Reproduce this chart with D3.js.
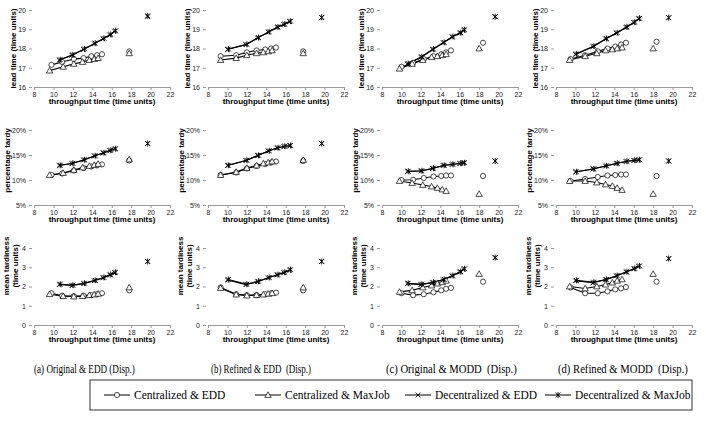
<!DOCTYPE html>
<html><head><meta charset="utf-8">
<script src="https://cdn.jsdelivr.net/npm/d3@7"></script>
<style>
body{margin:0;background:#fff;}
svg{display:block;}
.tick text{font-family:"Liberation Sans",Arial,sans-serif;font-size:7px;fill:#222;}
</style></head>
<body><svg id="c" width="706" height="429"></svg>
<script>
// ---------- data ----------
const panelCaptions = ["(a) Original & EDD (Disp.)","(b) Refined & EDD  (Disp.)","(c) Original & MODD  (Disp.)","(d) Refined & MODD  (Disp.)"];
const seriesNames = ["Centralized & EDD","Centralized & MaxJob","Decentralized & EDD","Decentralized & MaxJob"];
const metricTitles = [["lead time (time units)"],["percentage tardy"],["mean tardiness","(time units)"]];
const xTicks = [8,10,12,14,16,18,20,22];
const yTicksLead = [16,17,18,19,20];
const yTicksPct = [5,10,15,20];
const yTicksTard = [0,1,2,3,4];

// throughput time (x) per panel column a..d
const thrCE = [[9.8,10.9,12.1,13.1,13.9,14.5,15.0],[9.3,10.9,12.0,13.0,13.9,14.5,15.0],[10.0,11.2,12.3,13.3,14.1,14.6,15.1],[9.5,11.0,12.3,13.3,14.1,14.7,15.2]];
const thrCM = [[9.6,11.0,12.1,13.0,13.7,14.2,14.6],[9.3,10.9,12.0,13.0,13.7,14.2,14.6],[9.8,11.1,12.2,13.1,13.7,14.2,14.6],[9.4,11.0,12.2,13.1,13.8,14.3,14.8]];
const thrDE = [[10.6,11.9,13.1,14.2,15.1,15.8,16.3],[10.0,11.9,13.1,14.2,15.1,15.8,16.4],[10.6,12.0,13.2,14.3,15.2,16.0,16.4],[10.0,11.8,13.1,14.2,15.2,16.0,16.5]];
const thrDM = [[10.7,12.0,13.2,14.3,15.2,15.9,16.4],[10.1,12.0,13.2,14.3,15.2,15.9,16.5],[10.7,12.1,13.3,14.4,15.3,16.1,16.5],[10.1,11.9,13.2,14.3,15.3,16.1,16.6]];

// lead time
const leadCE = [[17.15,17.3,17.45,17.5,17.6,17.65,17.7],[17.6,17.65,17.8,17.9,17.95,18.0,18.05],[17.05,17.25,17.45,17.6,17.7,17.8,17.9],[17.45,17.65,17.85,18.0,18.1,18.2,18.3]];
const leadCM = [[16.85,17.05,17.2,17.3,17.4,17.45,17.5],[17.4,17.5,17.65,17.75,17.8,17.85,17.9],[16.95,17.2,17.4,17.55,17.6,17.65,17.7],[17.4,17.6,17.75,17.9,17.95,18.0,18.05]];
const leadDE = [[17.4,17.65,17.95,18.25,18.5,18.7,18.9],[17.95,18.2,18.55,18.85,19.1,19.25,19.4],[17.2,17.55,17.95,18.3,18.6,18.8,18.95],[17.7,18.1,18.5,18.8,19.1,19.35,19.55]];
const leadDM = [[17.42,17.68,17.98,18.28,18.53,18.73,18.92],[17.97,18.22,18.57,18.87,19.12,19.27,19.42],[17.22,17.57,17.97,18.32,18.62,18.82,18.97],[17.72,18.12,18.52,18.82,19.12,19.37,19.57]];

// percentage tardy (%)
const pctCE = [[11.0,11.3,11.9,12.4,12.7,12.9,13.1],[11.0,11.5,12.3,12.8,13.2,13.5,13.7],[10.0,10.05,10.4,10.7,10.8,10.9,10.9],[9.8,10.2,10.6,10.9,11.0,11.1,11.1]];
const pctCM = [[11.0,11.4,12.0,12.5,12.8,13.0,13.2],[11.0,11.6,12.4,12.9,13.3,13.5,13.7],[9.8,9.4,9.0,8.7,8.4,8.1,7.8],[9.8,9.8,9.5,9.1,8.8,8.4,8.0]];
const pctDE = [[12.9,13.3,14.0,14.8,15.4,15.9,16.2],[12.9,13.9,14.9,15.8,16.4,16.7,16.85],[11.7,11.8,12.3,12.9,13.1,13.3,13.4],[11.6,12.2,12.8,13.3,13.7,13.9,14.0]];
const pctDM = [[12.95,13.35,14.05,14.85,15.45,15.95,16.25],[12.95,13.95,14.95,15.85,16.45,16.75,16.9],[11.75,11.85,12.35,12.95,13.15,13.35,13.45],[11.65,12.25,12.85,13.35,13.75,13.95,14.05]];

// mean tardiness
const tardCE = [[1.65,1.52,1.5,1.52,1.55,1.6,1.65],[1.95,1.6,1.55,1.55,1.6,1.65,1.68],[1.65,1.55,1.6,1.7,1.8,1.88,1.93],[1.95,1.65,1.65,1.75,1.85,1.9,1.97]];
const tardCM = [[1.6,1.5,1.48,1.5,1.55,1.58,1.62],[1.92,1.58,1.53,1.55,1.58,1.62,1.65],[1.72,1.8,1.95,2.05,2.15,2.22,2.3],[2.0,1.9,2.0,2.1,2.2,2.3,2.37]];
const tardDE = [[2.1,2.05,2.15,2.3,2.45,2.6,2.72],[2.34,2.1,2.25,2.45,2.6,2.72,2.85],[2.15,2.1,2.2,2.35,2.55,2.75,2.9],[2.3,2.2,2.35,2.55,2.75,2.92,3.05]];
const tardDM = [[2.12,2.07,2.17,2.32,2.47,2.62,2.74],[2.36,2.12,2.27,2.47,2.62,2.74,2.87],[2.17,2.12,2.22,2.37,2.57,2.77,2.92],[2.32,2.22,2.37,2.57,2.77,2.94,3.07]];

// isolated dispatching-only points: [throughput, lead, pct, tard] per column
const dispCE = [[17.8,17.85,13.9,1.8],[17.8,17.85,13.8,1.8],[18.4,18.3,10.8,2.25],[18.35,18.35,10.8,2.25]];
const dispCM = [[17.8,17.75,14.1,1.95],[17.8,17.75,14.0,1.95],[18.0,18.0,7.2,2.65],[18.0,18.0,7.2,2.65]];
const dispDE = [[19.7,19.65,17.3,3.3],[19.7,19.6,17.3,3.3],[19.65,19.65,13.8,3.5],[19.6,19.6,13.8,3.45]];
const dispDM = [[19.7,19.7,17.3,3.3],[19.7,19.62,17.3,3.3],[19.65,19.65,13.8,3.5],[19.6,19.6,13.8,3.45]];

// ---------- drawing ----------
const svg = d3.select("#c");
const colX = [34,208,382,556];
const plotW = 136;
const captionX = [34,211,386,558];
const captionW = [101,100,131,130];
const rows = [
  {top:10, bot:87, dom:[16,20], ticks:yTicksLead, fmt:d=>d, ys:[leadCE,leadCM,leadDE,leadDM], k:1},
  {top:130, bot:205, dom:[5,20], ticks:yTicksPct, fmt:d=>d+"%", ys:[pctCE,pctCM,pctDE,pctDM], k:2},
  {top:248, bot:325, dom:[0,4], ticks:yTicksTard, fmt:d=>d, ys:[tardCE,tardCM,tardDE,tardDM], k:3}
];
const xs = [thrCE,thrCM,thrDE,thrDM];
const disp = [dispCE,dispCM,dispDE,dispDM];

function marker(g, type, x, y){
  const s = 2.6;
  if(type===0){
    g.append("circle").attr("cx",x).attr("cy",y).attr("r",s).attr("fill","#fff").attr("stroke","#000").attr("stroke-width",0.7);
  } else if(type===1){
    const h=3.2;
    g.append("path").attr("d",`M${x},${y-h}L${x+h},${y+h*0.75}L${x-h},${y+h*0.75}Z`).attr("fill","#fff").attr("stroke","#000").attr("stroke-width",0.7);
  } else if(type===2){
    const h=2.4;
    g.append("path").attr("d",`M${x-h},${y-h}L${x+h},${y+h}M${x-h},${y+h}L${x+h},${y-h}`).attr("stroke","#000").attr("stroke-width",0.9);
  } else {
    const h=2.4;
    g.append("path").attr("d",`M${x-h},${y-h}L${x+h},${y+h}M${x-h},${y+h}L${x+h},${y-h}M${x},${y-h-0.6}L${x},${y+h+0.6}`).attr("stroke","#000").attr("stroke-width",0.9);
  }
}

rows.forEach((row, ri)=>{
  colX.forEach((x0, ci)=>{
    const g = svg.append("g");
    const x = d3.scaleLinear().domain([8,22]).range([x0, x0+plotW]);
    const y = d3.scaleLinear().domain(row.dom).range([row.bot, row.top]);
    const xa = g.append("g").attr("transform",`translate(0,${row.bot})`)
      .call(d3.axisBottom(x).tickValues(xTicks).tickSize(3).tickPadding(2));
    xa.select(".domain").attr("stroke","#999");
    xa.selectAll(".tick line").attr("stroke","#999");
    const ya = g.append("g").attr("transform",`translate(${x0-2},0)`)
      .call(d3.axisLeft(y).tickValues(row.ticks).tickFormat(row.fmt).tickSize(3).tickPadding(3));
    ya.select(".domain").remove();
    ya.selectAll(".tick line").attr("stroke","#999");
    g.append("text").attr("x",x0+plotW/2).attr("y",row.bot+17)
      .attr("text-anchor","middle").attr("font-family","Liberation Sans, Arial, sans-serif")
      .attr("font-size",8).attr("font-weight","bold").text("throughput time (time units)");
    const tl = metricTitles[ri];
    if(tl.length===1){
      const cy = ri===0 ? (row.top+row.bot)/2 : (row.top+row.bot)/2-7;
      const tx = ri===0 ? x0-18 : x0-24;
      g.append("text").attr("transform",`translate(${tx},${cy}) rotate(-90)`)
        .attr("text-anchor","middle").attr("font-family","Liberation Sans, Arial, sans-serif")
        .attr("font-size",8).attr("font-weight","bold").text(tl[0]);
    } else {
      const cy = row.top+18;
      tl.forEach((t,i)=>{
        g.append("text").attr("transform",`translate(${x0-25+i*9},${cy}) rotate(-90)`)
          .attr("text-anchor","middle").attr("font-family","Liberation Sans, Arial, sans-serif")
          .attr("font-size",8).attr("font-weight","bold").text(t);
      });
    }
    const line = d3.line().x(d=>x(d[0])).y(d=>y(d[1]));
    [0,1,2,3].forEach(si=>{
      const pts = xs[si][ci].map((v,i)=>[v,row.ys[si][ci][i]]);
      g.append("path").attr("d",line(pts)).attr("fill","none").attr("stroke","#000").attr("stroke-width",1.1);
    });
    [0,1,2,3].forEach(si=>{
      const pts = xs[si][ci].map((v,i)=>[v,row.ys[si][ci][i]]);
      pts.forEach(p=>marker(g, si, x(p[0]), y(p[1])));
      const dp = disp[si][ci];
      marker(g, si, x(dp[0]), y(dp[row.k]));
    });
    if(ri===2){
      const t = g.append("text").attr("x",0).attr("y",0)
        .attr("font-family","Liberation Serif, Times New Roman, serif")
        .attr("font-size",13.5).style("white-space","pre").text(panelCaptions[ci]);
      const nat = t.node().getComputedTextLength() || captionW[ci];
      t.attr("transform",`translate(${captionX[ci]},373) scale(${captionW[ci]/nat},1)`);
    }
  });
});

// legend
const lg = svg.append("g");
lg.append("rect").attr("x",90).attr("y",380).attr("width",602).attr("height",30)
  .attr("fill","none").attr("stroke","#000").attr("stroke-width",0.8);
const legX = [104,255,405,545];
seriesNames.forEach((n,i)=>{
  const lx = legX[i], ly = 395;
  lg.append("line").attr("x1",lx).attr("x2",lx+26).attr("y1",ly).attr("y2",ly).attr("stroke","#000").attr("stroke-width",1);
  marker(lg, i, lx+13, ly);
  lg.append("text").attr("x",lx+30).attr("y",ly+4).attr("font-family","Liberation Serif, Times New Roman, serif")
    .attr("font-size",11.5).text(n);
});
</script></body></html>
